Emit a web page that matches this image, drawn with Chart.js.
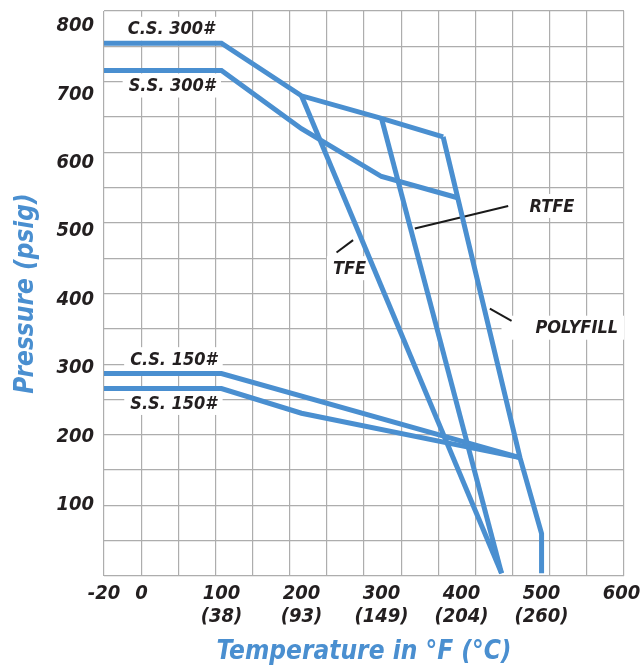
<!DOCTYPE html>
<html>
<head>
<meta charset="utf-8">
<script src="https://cdn.jsdelivr.net/npm/chart.js@4.4.1/dist/chart.umd.min.js"></script>
<style>
  html, body { margin: 0; padding: 0; background: #fff; }
  #wrap { width: 641px; height: 669px; }
</style>
</head>
<body>
<div id="wrap"><canvas id="chart"></canvas></div>
<script>
// ── Data ─────────────────────────────────────────────────────
const tempTicks     = [-20, 0, 100, 200, 300, 400, 500, 600];
const celsiusTicks  = ['', '', '(38)', '(93)', '(149)', '(204)', '(260)', ''];
const pressureTicks = [100, 200, 300, 400, 500, 600, 700, 800];

const cs300Temp = [-20, 100, 200, 300, 377];
const cs300Psig = [775, 775, 698, 665, 638];
const ss300Temp = [-20, 100, 200, 300, 395];
const ss300Psig = [735, 735, 650, 580, 549];
const cs150Temp = [-20, 100, 473];
const cs150Psig = [292, 292, 169];
const ss150Temp = [-20, 100, 200, 473];
const ss150Psig = [270, 270, 234, 169];
const tfeTemp   = [200, 450];
const tfePsig   = [698, 0];
const rtfeTemp  = [300, 450];
const rtfePsig  = [665, 0];
const polyTemp  = [377, 473, 500, 500];
const polyPsig  = [638, 169, 58, 0];

// ── Style ────────────────────────────────────────────────────
const BLUE  = '#4a8fd0';
const INK   = '#231f20';
const GRID  = '#adadad';
const FONT  = "'DejaVu Sans Condensed', 'Liberation Sans', sans-serif";

// labels + leader lines, in data units (°F, psig)
const notes = [
  { text: 'C.S. 300#', x: 37,  y: 796 },
  { text: 'S.S. 300#', x: 38,  y: 713 },
  { text: 'C.S. 150#', x: 40,  y: 313 },
  { text: 'S.S. 150#', x: 40,  y: 249 },
  { text: 'TFE',       x: 260, y: 446 },
  { text: 'RTFE',      x: 513, y: 537 },
  { text: 'POLYFILL',  x: 544, y: 359, padL: 34 },
];
const leaders = [
  [341.6, 504, 458.3, 537],   // RTFE
  [243.8, 469, 264.5, 487],   // TFE
  [435.4, 387, 462.5, 369],   // POLYFILL
];

// x axis: -20..0 is stretched over the first grid column
const NEG_STRETCH = 46.75 / 20;
class StretchScale extends Chart.LinearScale {
  stretch(v) { return v < 0 ? v * NEG_STRETCH : v; }
  getPixelForValue(value) {
    const a = this.stretch(this.min), b = this.stretch(this.max);
    return this.getPixelForDecimal((this.stretch(value) - a) / (b - a));
  }
  getValueForPixel(pixel) {
    const a = this.stretch(this.min), b = this.stretch(this.max);
    const t = a + this.getDecimalForPixel(pixel) * (b - a);
    return t < 0 ? t / NEG_STRETCH : t;
  }
}
StretchScale.id = 'stretch';
StretchScale.defaults = Chart.LinearScale.defaults;
Chart.register(StretchScale);

const pts = (xs, ys) => xs.map((x, i) => ({ x, y: ys[i] }));
const series = (label, xs, ys) => ({
  label,
  data: pts(xs, ys),
  xAxisID: 'x',
  yAxisID: 'y',
  borderColor: BLUE,
  borderWidth: 5,
  pointRadius: 0,
  tension: 0,
  fill: false,
});

const notesPlugin = {
  id: 'notes',
  beforeDatasetsDraw(chart) {
    const { ctx, scales: { x, y } } = chart;
    ctx.save();
    ctx.font = `italic bold 18px ${FONT}`;
    ctx.textAlign = 'center';
    ctx.textBaseline = 'middle';
    notes.forEach(n => {
      const px = x.getPixelForValue(n.x), py = y.getPixelForValue(n.y);
      const w = ctx.measureText(n.text).width;
      const padL = n.padL || 6;
      ctx.fillStyle = '#fff';
      ctx.fillRect(px - w / 2 - padL, py - 12, w + padL + 6, 24);
      ctx.fillStyle = INK;
      ctx.fillText(n.text, px, py + 1);
    });
    ctx.strokeStyle = '#1a1a1a';
    ctx.lineWidth = 2;
    leaders.forEach(([x1, y1, x2, y2]) => {
      ctx.beginPath();
      ctx.moveTo(x.getPixelForValue(x1), y.getPixelForValue(y1));
      ctx.lineTo(x.getPixelForValue(x2), y.getPixelForValue(y2));
      ctx.stroke();
    });
    ctx.restore();
  },
};

const tickFont  = { family: FONT, size: 20, style: 'italic', weight: 'bold', lineHeight: 1.15 };
const titleFont = { family: FONT, size: 26, style: 'italic', weight: 'bold', lineHeight: 1.2 };
const gridAxis = (axis, position, max) => ({
  type: 'linear', axis, position, min: 0, max,
  ticks: { display: false, stepSize: 1 },
  grid: { color: GRID, lineWidth: 1.2, drawTicks: false },
  border: { display: false },
  afterFit(s) { if (axis === 'x') s.height = 0; else s.width = 0; },
});

new Chart(document.getElementById('chart'), {
  type: 'line',
  data: {
    datasets: [
      series('C.S. 300#', cs300Temp, cs300Psig),
      series('S.S. 300#', ss300Temp, ss300Psig),
      series('C.S. 150#', cs150Temp, cs150Psig),
      series('S.S. 150#', ss150Temp, ss150Psig),
      series('TFE',       tfeTemp,   tfePsig),
      series('RTFE',      rtfeTemp,  rtfePsig),
      series('POLYFILL',  polyTemp,  polyPsig),
    ],
  },
  options: {
    responsive: true,
    maintainAspectRatio: false,
    animation: false,
    layout: { padding: { top: 11, right: 17, bottom: 0, left: 0 } },
    plugins: { legend: { display: false }, tooltip: { enabled: false } },
    scales: {
      x: {
        type: 'stretch',
        min: -20, max: 603,
        grid: { display: false, drawTicks: false },
        border: { display: false },
        afterBuildTicks(s) { s.ticks = tempTicks.map(v => ({ value: v })); },
        afterFit(s) { s.height = 93; s.paddingLeft = 0; s.paddingRight = 0; },
        ticks: {
          autoSkip: false, maxRotation: 0, padding: 6,
          color: INK, font: tickFont,
          callback(v) {
            const c = celsiusTicks[tempTicks.indexOf(v)];
            return c ? [String(v), c] : String(v);
          },
        },
        title: {
          display: true,
          text: 'Temperature in °F (°C)',
          color: BLUE,
          font: { ...titleFont, lineHeight: 1.1 },
          padding: 2,
        },
      },
      y: {
        type: 'linear',
        min: -4, max: 822,
        grid: { display: false, drawTicks: false },
        border: { display: false },
        afterBuildTicks(s) { s.ticks = pressureTicks.map(v => ({ value: v })); },
        afterFit(s) { s.width = 104; s.paddingTop = 0; s.paddingBottom = 0; },
        ticks: { padding: 10, color: INK, font: tickFont },
        title: {
          display: true,
          text: 'Pressure (psig)',
          color: BLUE,
          font: titleFont,
          padding: { top: 11, bottom: 0 },
        },
      },
      gx: gridAxis('x', 'top', 14),
      gy: gridAxis('y', 'right', 16),
    },
  },
  plugins: [notesPlugin],
});
</script>
</body>
</html>
